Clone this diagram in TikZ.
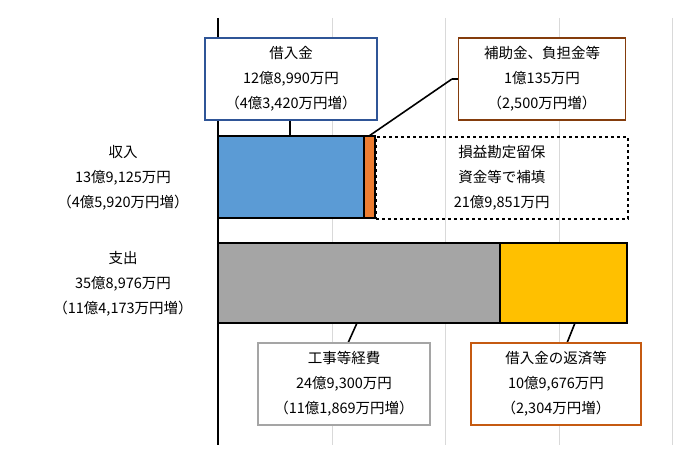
\documentclass[tikz,border=0pt]{standalone}
\usepackage{fontspec}
\setmainfont{Noto Sans CJK JP}
\begin{document}
\begin{tikzpicture}[x=1pt,y=-1pt,
 lbl/.style={align=center,font=\fontsize{14.5}{25}\selectfont,inner sep=0pt},
 callout/.style={draw,line width=1.6pt,fill=white,minimum width=#1,minimum height=82,align=center,font=\fontsize{14.5}{25}\selectfont,inner sep=0pt},
 lead/.style={line width=1.6pt}]
\useasboundingbox (0,0) rectangle (690,462);
\foreach \x in {332,445,559,672} \draw[gray!30,line width=0.8pt] (\x,18) -- (\x,445);
\fill[fill={rgb,255:red,91;green,155;blue,213}] (218,136) rectangle (364,218);
\fill[fill={rgb,255:red,237;green,125;blue,49}] (364,136) rectangle (375,218);
\draw[line width=1.2pt] (218,136) rectangle (375,218) (364,136) -- (364,218);
\node[draw,dashed,line width=1.6pt,minimum width=252,minimum height=82,inner sep=0pt,anchor=north west] (fill) at (375,136) {};
\node[lbl] at (fill.center) {損益勘定留保\\資金等で補填\\21億9,851万円};
\fill[fill={rgb,255:red,165;green,165;blue,165}] (218,243) rectangle (500,323);
\fill[fill={rgb,255:red,255;green,192;blue,0}] (500,243) rectangle (627,323);
\draw[line width=1.2pt] (218,243) rectangle (627,323) (500,243) -- (500,323);
\draw[line width=1.2pt] (218,18) -- (218,445);
\node[lbl] (inc) at (123,178) {収入\\13億9,125万円\\（4億5,920万円増）};
\node[lbl] (exp) at (123,284) {支出\\35億8,976万円\\（11億4,173万円増）};
\coordinate (p1) at (290,136);
\coordinate (p2) at (369,136);
\coordinate (k2) at (452,79);
\coordinate (p3) at (357,323);
\coordinate (p4) at (575,323);
\draw[lead] (290,120) -- (p1);
\draw[lead] (k2) -- (p2);
\draw[lead] (348,343) -- (p3);
\draw[lead] (567,343) -- (p4);
\draw[lead] (459,79) -- (k2);
\node[callout=172,draw={rgb,255:red,47;green,85;blue,151}] (b1) at (291,79) {借入金\\12億8,990万円\\（4億3,420万円増）};
\node[callout=167,draw={rgb,255:red,132;green,60;blue,12}] (b2) at (542,79) {補助金、負担金等\\1億135万円\\（2,500万円増）};
\node[callout=172,draw={rgb,255:red,165;green,165;blue,165}] (b3) at (344,384) {工事等経費\\24億9,300万円\\（11億1,869万円増）};
\node[callout=170,draw={rgb,255:red,197;green,90;blue,17}] (b4) at (556,384) {借入金の返済等\\10億9,676万円\\（2,304万円増）};
\end{tikzpicture}
\end{document}
